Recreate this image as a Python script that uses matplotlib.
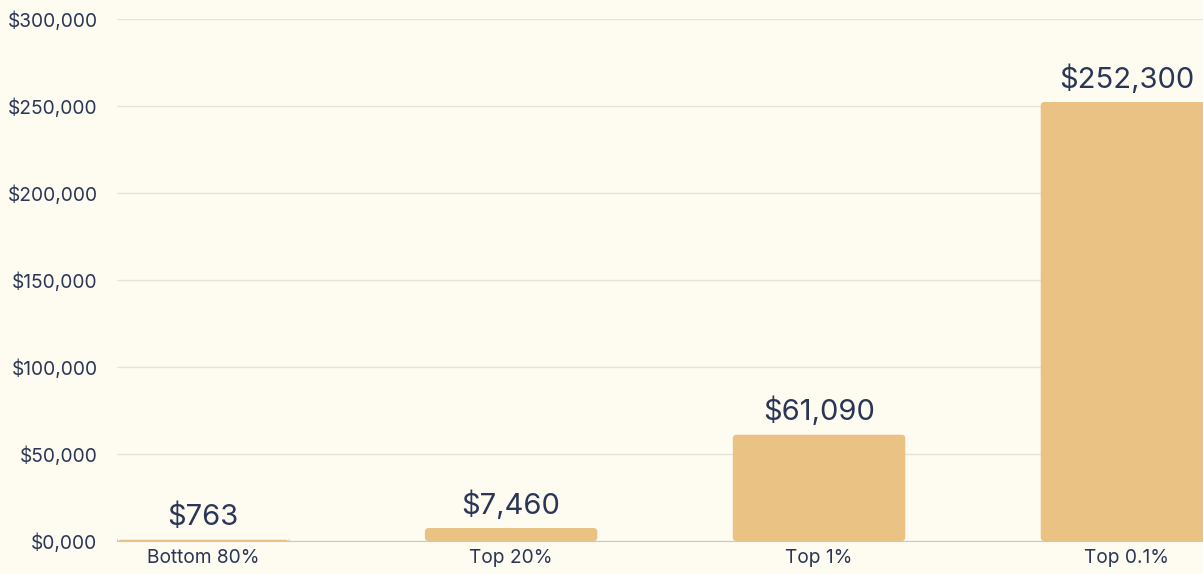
import matplotlib.pyplot as plt
from matplotlib.patches import FancyBboxPatch

# data
groups = ["Bottom 80%", "Top 20%", "Top 1%", "Top 0.1%"]
values = [763, 7460, 61090, 252300]
value_labels = ["$763", "$7,460", "$61,090", "$252,300"]
y_ticks = [0, 50000, 100000, 150000, 200000, 250000, 300000]
y_tick_labels = ["$0,000", "$50,000", "$100,000", "$150,000", "$200,000", "$250,000", "$300,000"]

bg = "#FEFCF1"
bar_color = "#EAC384"
text_color = "#2B3657"

plt.rcParams['font.family'] = ['Inter', 'DejaVu Sans']

fig = plt.figure(figsize=(12.03, 5.74), dpi=100, facecolor=bg)
ax = fig.add_axes([117 / 1203, 33 / 574, 1 - 117 / 1203, 522 / 574])
ax.set_facecolor(bg)

x = list(range(len(groups)))
bars = ax.bar(x, values, width=0.56, color=bar_color, zorder=3)

# swap plain rectangles for slightly rounded ones
for rect in bars:
    rb = FancyBboxPatch((rect.get_x(), rect.get_y()), rect.get_width(), rect.get_height(),
                        boxstyle="round,pad=0,rounding_size=0.012",
                        mutation_aspect=177000, facecolor=bar_color,
                        edgecolor="none", zorder=3)
    ax.add_patch(rb)
    rect.remove()

for xi, v, lab in zip(x, values, value_labels):
    ax.annotate(lab, (xi, v), xytext=(0, 6), textcoords="offset points",
                ha="center", va="bottom", fontsize=21, color=text_color)

ax.set_xlim(-0.28, 3.247)
ax.set_ylim(0, 300000)
ax.set_yticks(y_ticks)
ax.set_yticklabels(y_tick_labels)
ax.set_xticks(x)
ax.set_xticklabels(groups)
ax.tick_params(axis="both", length=0, labelsize=13.8, colors=text_color)
ax.tick_params(axis="y", pad=14)
ax.tick_params(axis="x", pad=6)

ax.grid(axis="y", color="#E6E4DA", linewidth=1, zorder=0)
for s in ["top", "right", "left"]:
    ax.spines[s].set_visible(False)
ax.spines["bottom"].set_color("#C9C8C2")
ax.spines["bottom"].set_zorder(4)

fig.savefig("out.png", dpi=100, facecolor=bg)
